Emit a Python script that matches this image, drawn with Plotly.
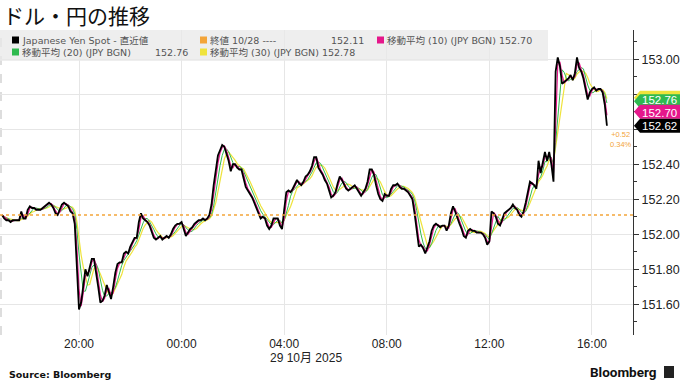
import pandas as pd
import plotly.graph_objects as go

# ---------------- data ----------------
start_time = "2025-10-28 17:00"
n_points = 284  # 5-minute bars, 17:00 (28 Oct) -> 16:35 (29 Oct)

spot = [
    152.11, 152.09, 152.08, 152.08, 152.07, 152.08, 152.08, 152.08, 152.08, 152.13,
    152.09, 152.09, 152.14, 152.16, 152.15, 152.15, 152.14, 152.14, 152.14, 152.15,
    152.16, 152.17, 152.18, 152.17, 152.15, 152.12, 152.11, 152.14, 152.17, 152.18,
    152.17, 152.16, 152.13, 152.12, 152.06, 151.80, 151.57, 151.61, 151.72, 151.80,
    151.76, 151.82, 151.86, 151.86, 151.79, 151.70, 151.61, 151.62, 151.65, 151.71,
    151.67, 151.63, 151.70, 151.78, 151.83, 151.84, 151.84, 151.89, 151.90, 151.89,
    151.93, 151.96, 151.98, 151.98, 152.07, 152.12, 152.09, 152.08, 152.07, 152.05,
    152.01, 151.98, 151.97, 151.98, 151.99, 151.97, 151.98, 151.99, 151.98, 152.00,
    152.03, 152.05, 152.06, 152.06, 152.07, 152.03, 151.99, 152.01, 152.03, 152.04,
    152.06, 152.07, 152.08, 152.08, 152.09, 152.08, 152.09, 152.11, 152.17, 152.28,
    152.36, 152.45, 152.48, 152.51, 152.50, 152.46, 152.42, 152.36, 152.40, 152.40,
    152.38, 152.37, 152.37, 152.32, 152.27, 152.25, 152.23, 152.21, 152.18, 152.15,
    152.12, 152.09, 152.10, 152.09, 152.05, 152.03, 152.05, 152.09, 152.09, 152.09,
    152.05, 152.03, 152.14, 152.24, 152.25, 152.24, 152.26, 152.29, 152.31, 152.29,
    152.28, 152.30, 152.33, 152.34, 152.36, 152.39, 152.44, 152.44, 152.38, 152.36,
    152.34, 152.31, 152.29, 152.25, 152.21, 152.22, 152.24, 152.29, 152.33, 152.31,
    152.28, 152.26, 152.25, 152.26, 152.27, 152.28, 152.26, 152.24, 152.22, 152.24,
    152.26, 152.30, 152.37, 152.37, 152.34, 152.28, 152.23, 152.20, 152.19, 152.23,
    152.22, 152.22, 152.26, 152.28, 152.28, 152.29, 152.27, 152.26, 152.26, 152.25,
    152.24, 152.22, 152.20, 152.12, 152.01, 151.93, 151.94, 151.92, 151.89, 151.92,
    151.96, 152.02, 152.05, 152.06, 152.05, 152.04, 152.05, 152.05, 152.02, 152.05,
    152.12, 152.16, 152.13, 152.09, 152.06, 152.03, 151.99, 151.98, 152.02, 152.03,
    152.02, 152.02, 152.01, 152.01, 152.01, 152.00, 151.98, 151.94, 151.96, 152.13,
    152.12, 152.10, 152.06, 152.05, 152.09, 152.12, 152.13, 152.14, 152.15, 152.17,
    152.15, 152.14, 152.11, 152.10, 152.13, 152.18, 152.25, 152.30, 152.29, 152.28,
    152.26, 152.42, 152.35, 152.42, 152.47, 152.42, 152.47, 152.40, 152.30, 152.93,
    153.01, 152.96, 152.86, 152.87, 152.88, 152.89, 152.91, 152.88, 152.92, 153.01,
    152.95, 152.93, 152.89, 152.82, 152.77, 152.81, 152.83, 152.84, 152.82, 152.83,
    152.83, 152.81, 152.74, 152.62,
]

prev_close = 152.11
ma_windows = ["10min", "20min", "30min"]          # MA(10/20/30) of 1-minute bars
ma_names = ["移動平均 (10) (JPY BGN)", "移動平均 (20) (JPY BGN)", "移動平均 (30) (JPY BGN)"]
ma_last = [152.70, 152.76, 152.78]
spot_last = 152.62
change_text = ["+0.52", "0.34%"]

x_tick_vals = ["2025-10-28 20:00", "2025-10-29 00:00", "2025-10-29 04:00",
               "2025-10-29 08:00", "2025-10-29 12:00", "2025-10-29 16:00"]
x_tick_text = ["20:00", "00:00", "04:00", "08:00", "12:00", "16:00"]
date_label = "29 10月 2025"
y_tick_vals = [151.6, 151.8, 152.0, 152.2, 152.4, 152.6, 152.8, 153.0]
# 152.60 / 152.80 labels are covered by the value tags in the reference
y_tick_text = ["151.60", "151.80", "152.00", "152.20", "152.40", "", "", "153.00"]
x_range = ["2025-10-28 16:55:12", "2025-10-29 17:36:00"]
y_range = [151.4246, 153.167]

title = "ドル・円の推移"

# ---------------- styling ----------------
BLACK = "#000000"
MAGENTA = "#e5178b"
GREEN = "#2fba4f"
YELLOW = "#efe33c"
ORANGE = "#f3a53a"
GRID = "#e6e6e6"

times = pd.date_range(start_time, periods=n_points, freq="5min")
s = pd.Series(spot, index=times)
mas = [s.rolling(w, min_periods=1).mean() for w in ma_windows]

W, TOP, BOT = 633, 30, 335
H = BOT - TOP


def px(x):
    return x / W


def py(y):
    return (BOT - y) / H


fig = go.Figure()
ma_colors = [MAGENTA, GREEN, YELLOW]
ma_widths = [1.2, 1.0, 1.2]
for ma, c, w, nm in reversed(list(zip(mas, ma_colors, ma_widths, ma_names))):
    fig.add_trace(go.Scatter(x=ma.index, y=ma.values, mode="lines", name=nm,
                             line=dict(color=c, width=w), hoverinfo="skip"))
fig.add_trace(go.Scatter(x=times, y=spot, mode="lines", name="Japanese Yen Spot",
                         line=dict(color=BLACK, width=1.8), hoverinfo="skip"))

shapes = []
annotations = []

# previous close dotted line
shapes.append(dict(type="line", xref="paper", x0=0, x1=1, yref="y", y0=prev_close, y1=prev_close,
                   line=dict(color=ORANGE, width=1.5, dash="dot"), layer="above"))
# left dashed edge
shapes.append(dict(type="line", xref="paper", x0=0.0016, x1=0.0016, yref="paper", y0=0, y1=1,
                   line=dict(color="#bbbbbb", width=1, dash="dash"), layer="below"))

# legend background
shapes.append(dict(type="rect", xref="paper", yref="paper", x0=0, x1=px(548), y0=py(61), y1=py(30),
                   fillcolor="rgba(232,232,232,0.75)", line=dict(width=0), layer="above"))

LEG_FONT = dict(family="DejaVu Sans, Noto Sans CJK JP", size=9.5, color="#555555")


def square(x, y, color):
    shapes.append(dict(type="rect", xref="paper", yref="paper",
                       x0=px(x), x1=px(x + 7), y0=py(y + 3.5), y1=py(y - 3.5),
                       fillcolor=color, line=dict(width=0), layer="above"))


def text(x, y, t, anchor="left", font=LEG_FONT):
    annotations.append(dict(xref="paper", yref="paper", x=px(x), y=py(y), text=t,
                            showarrow=False, xanchor=anchor, yanchor="middle", font=font))


r1, r2 = 40, 52
square(12, r1, BLACK)
text(20, r1, "Japanese Yen Spot - 直近値")
square(200, r1, ORANGE)
text(208, r1, "終値 10/28 ----")
text(366, r1, f"{prev_close:.2f}", anchor="right")
square(377, r1, MAGENTA)
text(385, r1, f"{ma_names[0]} {ma_last[0]:.2f}")
square(12, r2, GREEN)
text(20, r2, ma_names[1])
text(190, r2, f"{ma_last[1]:.2f}", anchor="right")
square(200, r2, YELLOW)
text(208, r2, f"{ma_names[2]} {ma_last[2]:.2f}")

# right-hand value tags (the MA(30) tag sits behind the MA(20) tag, its label hidden as in the reference)
tag_vals = [ma_last[2], ma_last[1], ma_last[0], spot_last]
tag_cols = [YELLOW, GREEN, MAGENTA, BLACK]
tag_show_text = [False, True, True, True]
tag_text_shift = [0, 1, -1, 0]
for v, c, show, ys in zip(tag_vals, tag_cols, tag_show_text, tag_text_shift):
    shapes.append(dict(type="path", xref="paper", yref="y", xsizemode="pixel", ysizemode="pixel",
                       xanchor=1, yanchor=v,
                       path="M1,0 L7,7 L47,7 L47,-7 L7,-7 Z",
                       fillcolor=c, line=dict(width=0), layer="above"))
    if show:
        annotations.append(dict(xref="paper", yref="y", x=1, y=v, xanchor="left", yanchor="middle",
                                xshift=7, yshift=ys, text=f"{v:.2f}", showarrow=False,
                                font=dict(family="Liberation Sans, Arial", size=11.5, color="white")))

# change annotation at end of series
annotations.append(dict(xref="x", yref="y", x=times[-1], y=spot[-1], xanchor="left", yanchor="top",
                        xshift=1, yshift=-2, text="<br>".join(change_text), showarrow=False, align="center",
                        font=dict(family="Liberation Sans, Arial", size=7.5, color=ORANGE)))

# date label under x ticks
annotations.append(dict(xref="x", yref="paper", x=x_tick_vals[2], y=py(358), xanchor="left",
                        yanchor="middle", xshift=-16, text=date_label, showarrow=False,
                        font=dict(family="Liberation Sans, Noto Sans CJK JP", size=12, color="#222222")))

# title
annotations.append(dict(xref="paper", yref="paper", x=px(1), y=py(15), xanchor="left", yanchor="middle",
                        text=title, showarrow=False,
                        font=dict(family="Noto Sans CJK JP", size=21, color="#111111")))

# footer
annotations.append(dict(xref="paper", yref="paper", x=px(7), y=py(374), xanchor="left", yanchor="middle",
                        text="<b>Source: Bloomberg</b>", showarrow=False,
                        font=dict(family="DejaVu Sans", size=9.5, color="#111111")))
annotations.append(dict(xref="paper", yref="paper", x=px(659), y=py(372), xanchor="right", yanchor="middle",
                        text="<b>Bloomberg</b>", showarrow=False,
                        font=dict(family="Roboto, Liberation Sans", size=13.5, color="#111111")))
shapes.append(dict(type="rect", xref="paper", yref="paper", x0=px(664), x1=px(674), y0=py(378), y1=py(366),
                   fillcolor="#222222", line=dict(width=0), layer="above"))

fig.update_layout(
    width=680, height=382,
    margin=dict(l=0, r=680 - W, t=TOP, b=382 - BOT),
    paper_bgcolor="white", plot_bgcolor="white",
    showlegend=False,
    shapes=shapes, annotations=annotations,
    xaxis=dict(type="date", range=x_range, tickvals=x_tick_vals, ticktext=x_tick_text,
               showgrid=True, gridcolor=GRID, gridwidth=1, zeroline=False, showline=False,
               ticks="", tickfont=dict(family="Liberation Sans, Arial", size=12, color="#222222")),
    yaxis=dict(range=y_range, side="right", tickvals=y_tick_vals, ticktext=y_tick_text,
               showgrid=True, gridcolor=GRID, gridwidth=1, zeroline=False,
               showline=True, linecolor="#333333", linewidth=1,
               ticks="outside", ticklen=5, tickcolor="#333333",
               minor=dict(dtick=0.1, tick0=0, ticks="outside", ticklen=3, tickcolor="#333333", showgrid=False),
               tickfont=dict(family="Liberation Sans, Arial", size=12.5, color="#222222")),
    hovermode=False,
)

fig.write_html("out.html")
